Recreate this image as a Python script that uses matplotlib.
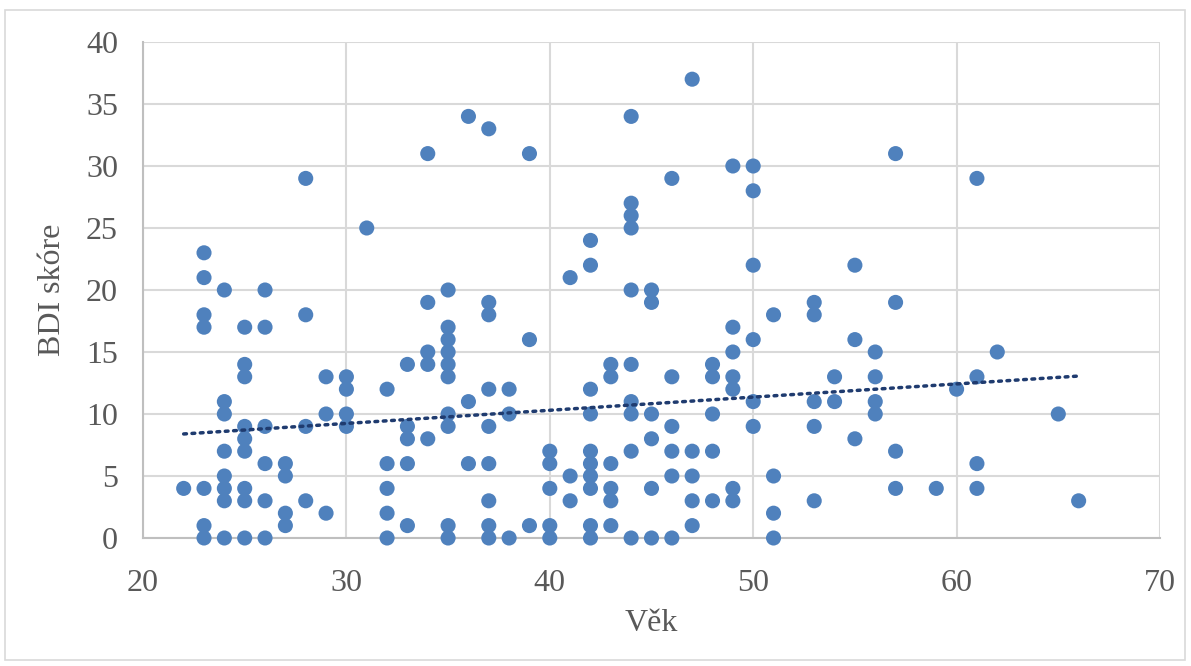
import numpy as np
import matplotlib
matplotlib.use("Agg")
import matplotlib.pyplot as plt
from matplotlib.patches import Rectangle

# --- adatok: věk (x) -> BDI skóre (y), oszloponként ---
ages = [22, 23, 24, 25, 26, 27, 28, 29, 30, 31, 32, 33, 34, 35, 36, 37, 38, 39, 40,
        41, 42, 43, 44, 45, 46, 47, 48, 49, 50, 51, 53, 54, 55, 56, 57, 59, 60, 61,
        62, 65, 66]
bdi_by_age = [
    [4],
    [23, 21, 18, 17, 4, 1, 0],
    [20, 11, 10, 7, 5, 4, 3, 0],
    [17, 14, 13, 9, 8, 7, 4, 3, 0],
    [20, 17, 9, 6, 3, 0],
    [6, 5, 2, 1],
    [29, 18, 9, 3],
    [13, 10, 2],
    [13, 12, 10, 9],
    [25],
    [12, 6, 4, 2, 0],
    [14, 9, 8, 6, 1],
    [31, 19, 15, 14, 8],
    [20, 17, 16, 15, 14, 13, 10, 9, 1, 0],
    [34, 11, 6],
    [33, 19, 18, 12, 9, 6, 3, 1, 0],
    [12, 10, 0],
    [31, 16, 1],
    [7, 6, 4, 1, 0],
    [21, 5, 3],
    [24, 22, 12, 10, 7, 6, 5, 4, 1, 0],
    [14, 13, 6, 4, 3, 1],
    [34, 27, 26, 25, 20, 14, 11, 10, 7, 0],
    [20, 19, 10, 8, 4, 0],
    [29, 13, 9, 7, 5, 0],
    [37, 7, 5, 3, 1],
    [14, 13, 10, 7, 3],
    [30, 17, 15, 13, 12, 4, 3],
    [30, 28, 22, 16, 11, 9],
    [18, 5, 2, 0],
    [19, 18, 11, 9, 3],
    [13, 11],
    [22, 16, 8],
    [15, 13, 11, 10],
    [31, 19, 7, 4],
    [4],
    [12],
    [29, 13, 6, 4],
    [15],
    [10],
    [3],
]

# lineární trend (Excel, vč. překrytých bodů)
trend_ages = [22, 66]
trend_bdi = [8.39, 13.06]

x = np.array([a for a, ys in zip(ages, bdi_by_age) for _ in ys], dtype=float)
y = np.array([v for ys in bdi_by_age for v in ys], dtype=float)

plt.rcParams['font.family'] = ['Liberation Serif', 'DejaVu Serif']
text_col = '#595959'
grid_col = '#d9d9d9'

fig = plt.figure(figsize=(11.91, 6.66), dpi=100)
# vnější rámeček grafu
fig.patches.append(Rectangle((5 / 1191, 6 / 666), 1180 / 1191, 650 / 666,
                             transform=fig.transFigure, fill=False,
                             edgecolor=grid_col, linewidth=1.2))

ax = fig.add_axes([143 / 1191, 1 - 538 / 666, 1017 / 1191, 496 / 666])
ax.scatter(x, y, s=118, color='#4f81bd', edgecolors='none', zorder=3, clip_on=False)

ax.plot(trend_ages, trend_bdi, linestyle=(0, (0.8, 1.6)), color='#1f3b6f',
        linewidth=2.5, zorder=4, dash_capstyle='round')

ax.set_xlim(20, 70)
ax.set_ylim(0, 40)
ax.set_xticks(range(20, 71, 10))
ax.set_yticks(range(0, 41, 5))
ax.grid(True, color=grid_col, linewidth=1.5, zorder=0)
ax.set_axisbelow(True)
for side in ['top', 'right']:
    ax.spines[side].set_visible(False)
for side in ['left', 'bottom']:
    ax.spines[side].set_color('#bfbfbf')
    ax.spines[side].set_linewidth(1.5)
ax.tick_params(length=0, labelsize=23, labelcolor=text_col)
ax.tick_params(axis='x', pad=22)
ax.tick_params(axis='y', pad=18)

ax.set_xlabel('Věk', fontsize=23, color=text_col, labelpad=8)
ax.set_ylabel('BDI skóre', fontsize=23, color=text_col, labelpad=14)

fig.savefig('out.png', dpi=100)
